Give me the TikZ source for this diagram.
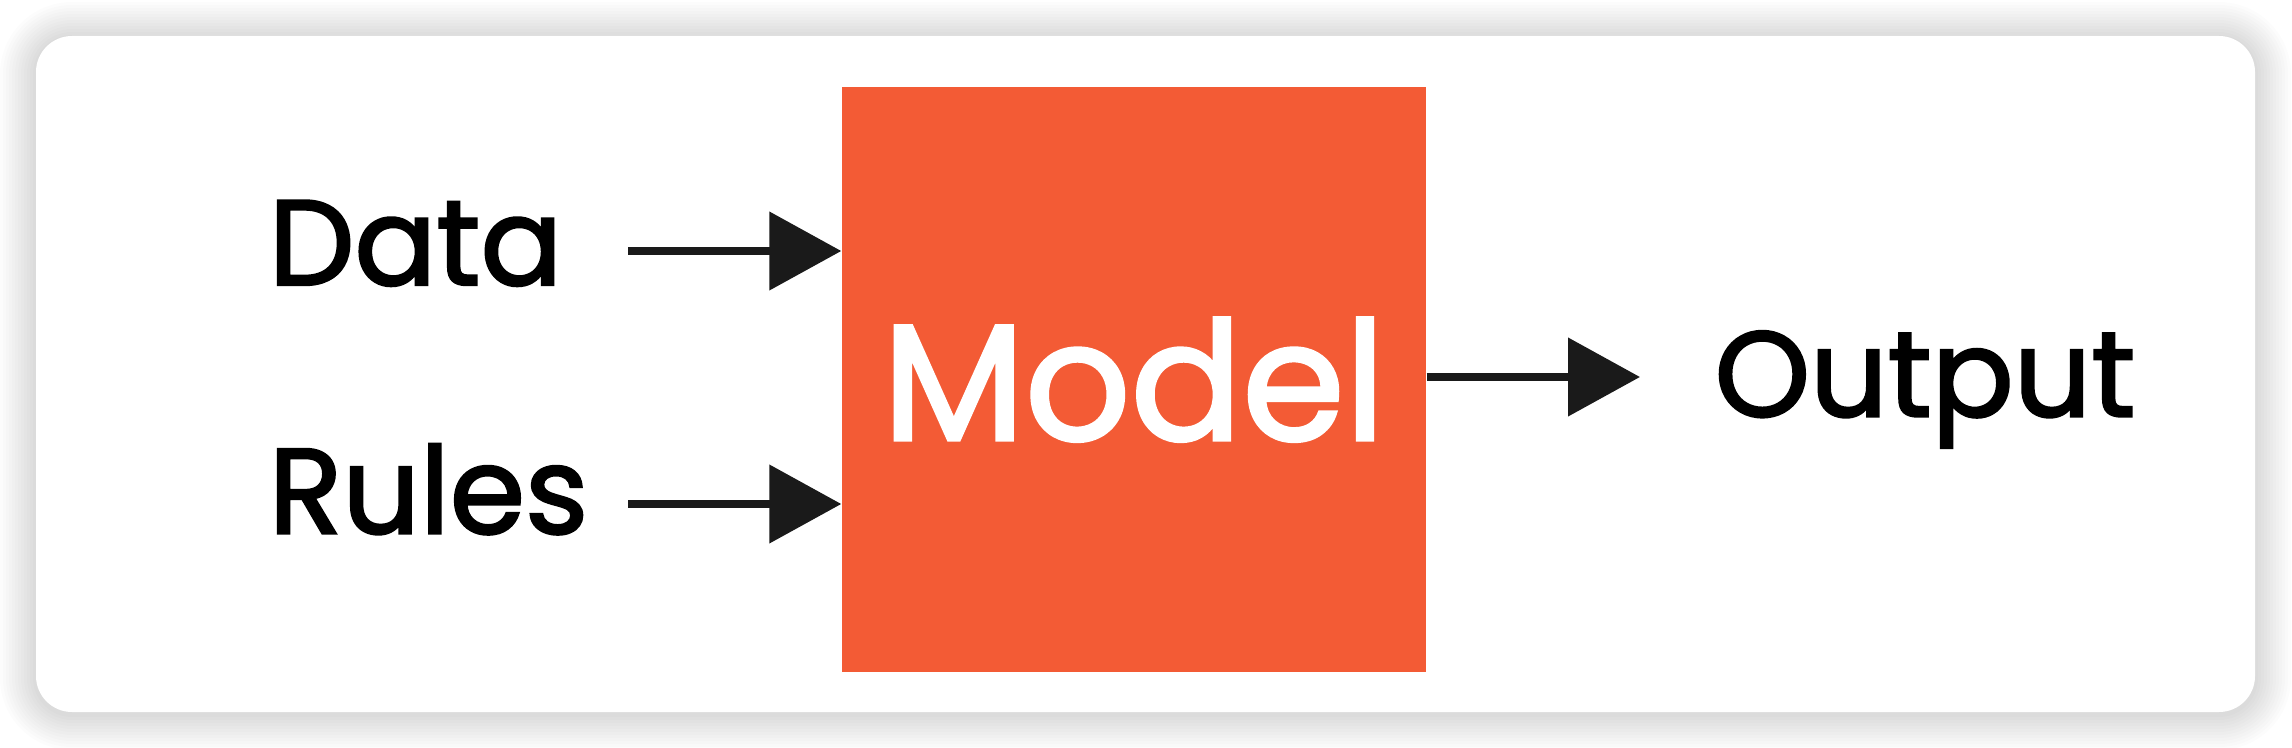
\documentclass[tikz,border=0pt]{standalone}
\usepackage{fontspec}
\setmainfont{Poppins}[FakeBold=2]
\usetikzlibrary{arrows.meta}
\definecolor{modelorange}{RGB}{243,91,53}
\definecolor{inkblack}{RGB}{26,26,26}
\tikzset{
  flow/.style={-{Triangle[length=0.72cm,width=0.77cm]},line width=0.08cm,inkblack},
  txtlabel/.style={inner sep=0,anchor=base west,text=black,font=\fontsize{34.5}{40}\selectfont},
}
\begin{document}
\begin{tikzpicture}
\useasboundingbox (0,0) rectangle (22.92,-7.48);
\fill[white] (0,0) rectangle (22.92,-7.48);
% soft shadow round the card
\foreach \i [evaluate=\i as \d using \i*0.03, evaluate=\i as \r using 0.36+\i*0.03] in {1,...,12}
  \fill[black,opacity=0.01,rounded corners=\r cm] (0.36-\d,-0.38+\d) rectangle (22.55+\d,-7.14-\d);
\fill[white,rounded corners=0.36cm] (0.36,-0.36) rectangle (22.55,-7.12);

\node[fill=modelorange,minimum size=5.84cm,inner sep=0,text=white,
  font=\fontsize{47}{55}\selectfont,text height=1.21cm,text depth=0pt] (model) at (11.34,-3.795) {Model};

\node[txtlabel] (data) at (2.68,-2.85) {Data};
\node[txtlabel] (rules) at (2.68,-5.335) {Rules};
\node[txtlabel] (output) at (17.14,-4.165) {Output};

\coordinate (datain) at (6.28,-2.51);
\coordinate (rulesin) at (6.28,-5.04);
\coordinate (outtip) at (16.40,-3.77);
\draw[flow] (datain) -- (datain -| model.west);
\draw[flow] (rulesin) -- (rulesin -| model.west);
\draw[flow] (model.east |- outtip) -- (outtip);
\end{tikzpicture}
\end{document}
